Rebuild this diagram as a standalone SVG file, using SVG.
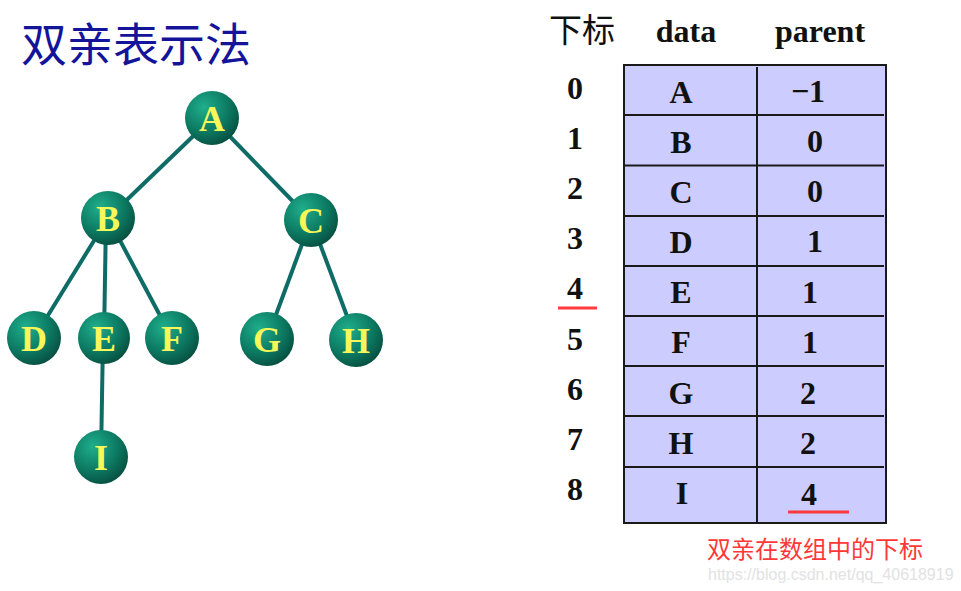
<svg xmlns="http://www.w3.org/2000/svg" width="961" height="591" viewBox="0 0 961 591">
<defs>
<radialGradient id="ball" cx="0.35" cy="0.3" r="0.75">
<stop offset="0" stop-color="#1fae8c"/>
<stop offset="0.6" stop-color="#0c7a62"/>
<stop offset="1" stop-color="#074f40"/>
</radialGradient>
</defs>
<style>
.node circle{fill:url(#ball)}
.node text{fill:#f7f75a;font-family:"Liberation Serif",serif;font-weight:bold;font-size:36px;text-anchor:middle}
.edge{stroke:#0e6b66;stroke-width:4;fill:none}
.cell{font-family:"Liberation Serif",serif;font-weight:bold;font-size:32px;text-anchor:middle;fill:#111}
.grid{stroke:#1a1a1a;stroke-width:2}
</style>
<rect width="961" height="591" fill="#fff"/>
<text x="21" y="61" font-family="'Noto Sans CJK SC',sans-serif" font-size="46" fill="#14149a">双亲表示法</text>
<g id="connectors">
<line class="edge" x1="212" y1="118" x2="108" y2="218"/>
<line class="edge" x1="212" y1="118" x2="311" y2="220"/>
<line class="edge" x1="108" y1="218" x2="34" y2="338"/>
<line class="edge" x1="106" y1="218" x2="104" y2="338"/>
<line class="edge" x1="108" y1="218" x2="172" y2="338"/>
<line class="edge" x1="311" y1="220" x2="267" y2="339"/>
<line class="edge" x1="311" y1="220" x2="356" y2="340"/>
<line class="edge" x1="103" y1="338" x2="101" y2="457"/>
</g>
<g id="node-A" class="node"><circle cx="212" cy="118" r="27"/><text x="212" y="131">A</text></g>
<g id="node-B" class="node"><circle cx="108" cy="218" r="27"/><text x="108" y="231">B</text></g>
<g id="node-C" class="node"><circle cx="311" cy="220" r="27"/><text x="311" y="233">C</text></g>
<g id="node-D" class="node"><circle cx="34" cy="338" r="27"/><text x="34" y="351">D</text></g>
<g id="node-E" class="node"><circle cx="104" cy="338" r="26"/><text x="104" y="351">E</text></g>
<g id="node-F" class="node"><circle cx="172" cy="338" r="27"/><text x="172" y="351">F</text></g>
<g id="node-G" class="node"><circle cx="267" cy="339" r="27"/><text x="267" y="352">G</text></g>
<g id="node-H" class="node"><circle cx="356" cy="340" r="27"/><text x="356" y="353">H</text></g>
<g id="node-I" class="node"><circle cx="101" cy="457" r="27"/><text x="101" y="470">I</text></g>
<g id="table">
<text x="549" y="42" font-family="'Noto Sans CJK SC',sans-serif" font-size="33" fill="#111">下标</text>
<text class="cell" x="686" y="42" font-size="34">data</text>
<text class="cell" x="820" y="42" font-size="34">parent</text>
<rect x="624" y="65" width="262" height="458" fill="#ccccff" class="grid"/>
<line class="grid" x1="757" y1="67" x2="757" y2="522"/>
<line class="grid" x1="624" y1="115" x2="884" y2="115"/>
<line class="grid" x1="624" y1="165.5" x2="884" y2="165.5"/>
<line class="grid" x1="624" y1="216" x2="884" y2="216"/>
<line class="grid" x1="624" y1="266" x2="884" y2="266"/>
<line class="grid" x1="624" y1="316" x2="884" y2="316"/>
<line class="grid" x1="624" y1="366" x2="884" y2="366"/>
<line class="grid" x1="624" y1="416" x2="884" y2="416"/>
<line class="grid" x1="624" y1="467" x2="884" y2="467"/>
<g class="cell">
<text x="575" y="99">0</text><text x="681" y="103">A</text><text x="808" y="102">−1</text>
<text x="575" y="149">1</text><text x="681" y="153">B</text><text x="815" y="152">0</text>
<text x="575" y="199">2</text><text x="681" y="203">C</text><text x="815" y="202">0</text>
<text x="575" y="249">3</text><text x="681" y="253">D</text><text x="815" y="252">1</text>
<text x="575" y="299">4</text><text x="681" y="303">E</text><text x="810" y="303">1</text>
<text x="575" y="350">5</text><text x="681" y="353">F</text><text x="810" y="353">1</text>
<text x="575" y="400">6</text><text x="681" y="404">G</text><text x="808" y="404">2</text>
<text x="575" y="450">7</text><text x="681" y="454">H</text><text x="808" y="454">2</text>
<text x="575" y="500">8</text><text x="682" y="504">I</text><text x="809" y="505">4</text>
</g>
</g>
<line x1="558" y1="308" x2="597" y2="308" stroke="#ff3b3b" stroke-width="3"/>
<line x1="788" y1="512" x2="849" y2="512" stroke="#ff3b3b" stroke-width="3"/>
<text x="707" y="558" font-family="'Noto Sans CJK SC',sans-serif" font-size="24" fill="#ff3838">双亲在数组中的下标</text>
<text x="708" y="580" font-family="'Liberation Sans',sans-serif" font-size="16" fill="#e2e2e2">https://blog.csdn.net/qq_40618919</text>
</svg>
